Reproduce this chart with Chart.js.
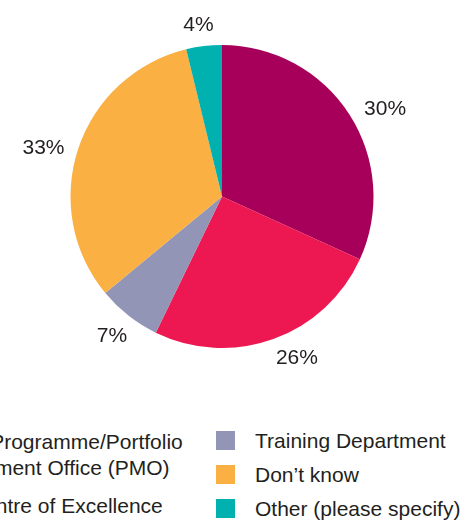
<!DOCTYPE html>
<html>
<head>
<meta charset="utf-8">
<script src="https://cdn.jsdelivr.net/npm/chart.js@4"></script>
<style>
  html, body { margin: 0; padding: 0; background: #fff; }
  body { width: 470px; height: 529px; position: relative; overflow: hidden;
         font-family: "Liberation Sans", Arial, sans-serif; color: #231F20; }
  #chart { position: absolute; left: 0; top: 0; }
  .legend-item { position: absolute; display: flex; align-items: flex-start; }
  .legend-swatch { width: 19px; height: 19px; margin-top: 3px; margin-right: 20px; flex: none; }
  .legend-text { font-size: 21px; line-height: 26px; white-space: pre; }
</style>
</head>
<body>
<canvas id="chart" width="444" height="392"></canvas>
<div id="legend"></div>
<script>
const categories = [
  'Project/Programme/Portfolio\nManagement Office (PMO)',
  'Centre of Excellence',
  'Training Department',
  "Don\u2019t know",
  'Other (please specify)'
];
// slice sizes as drawn, and the percentages printed next to them
const sliceValues = [31.8, 25.4, 6.8, 32.2, 3.8];
const printedPercents = [30, 26, 7, 33, 4];
const colours = ['#A6005A', '#ED1751', '#9295B6', '#FAB042', '#00B1AF'];

// layout only: legend item placement (left column runs off the page in the original)
// and small angle nudges (degrees) for the outside labels
const legendPos = [[-120, 429], [-70, 493], [216, 428], [216, 462], [216, 496]];
const labelNudge = [4.7, -5, 0, -3.3, -1];

const outsideLabels = {
  id: 'outsideLabels',
  afterDraw(chart) {
    const ctx = chart.ctx;
    const arcs = chart.getDatasetMeta(0).data;
    ctx.save();
    ctx.font = '21px "Liberation Sans", Arial, sans-serif';
    ctx.fillStyle = '#231F20';
    ctx.textAlign = 'center';
    ctx.textBaseline = 'middle';
    arcs.forEach((arc, i) => {
      const p = arc.getProps(['x', 'y', 'startAngle', 'endAngle', 'outerRadius'], true);
      const mid = (p.startAngle + p.endAngle) / 2 + labelNudge[i] * Math.PI / 180;
      const text = printedPercents[i] + '%';
      const halfW = ctx.measureText(text).width / 2;
      const halfH = 8;
      const d = p.outerRadius + 11 + halfW * Math.abs(Math.cos(mid)) + halfH * Math.abs(Math.sin(mid));
      ctx.fillText(text, p.x + Math.cos(mid) * d, p.y + Math.sin(mid) * d);
    });
    ctx.restore();
  }
};

new Chart(document.getElementById('chart'), {
  type: 'pie',
  data: {
    labels: categories,
    datasets: [{
      data: sliceValues,
      backgroundColor: colours,
      borderWidth: 0
    }]
  },
  options: {
    responsive: false,
    animation: false,
    layout: { padding: { left: 44, right: 44, top: 45, bottom: 44 } },
    plugins: {
      legend: { display: false },
      tooltip: { enabled: false }
    }
  },
  plugins: [outsideLabels]
});

const legend = document.getElementById('legend');
categories.forEach((label, i) => {
  const item = document.createElement('div');
  item.className = 'legend-item';
  item.style.left = legendPos[i][0] + 'px';
  item.style.top = legendPos[i][1] + 'px';
  item.innerHTML = '<div class="legend-swatch" style="background:' + colours[i] + '"></div>' +
                   '<div class="legend-text"></div>';
  item.querySelector('.legend-text').textContent = label;
  legend.appendChild(item);
});
</script>
</body>
</html>
